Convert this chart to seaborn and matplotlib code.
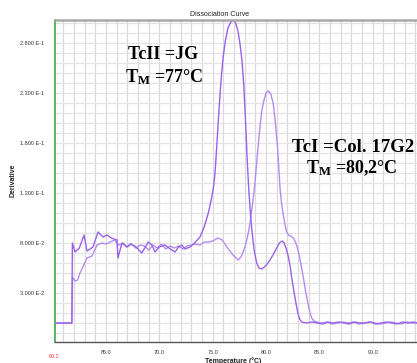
import numpy as np
import pandas as pd
import seaborn as sns
import matplotlib.pyplot as plt
from matplotlib.ticker import FixedLocator, MultipleLocator

# TcII = JG (peak ~77 C)
tempJG = [60.22, 61.0, 61.8, 61.85, 62.1, 62.5, 62.94, 63.22, 63.5, 63.78, 64.25, 64.72,
          65.09, 65.5, 66.03, 66.12, 66.5, 66.94, 67.3, 67.7, 68.0, 68.35, 68.97, 69.3,
          69.6, 70.0, 70.5, 70.9, 71.47, 71.8, 72.1, 72.4, 72.87, 73.3, 73.81, 74.2,
          74.59, 74.9, 75.1, 75.22, 75.4, 75.59, 75.8, 75.97, 76.2, 76.43, 76.7, 76.93,
          77.15, 77.37, 77.55, 77.75, 77.9, 78.03, 78.15, 78.25, 78.4, 78.55, 78.7, 78.9,
          79.12, 79.35, 79.59, 79.85, 80.1, 80.37, 80.7, 81.0, 81.25, 81.5, 81.7, 81.9,
          82.1, 82.24, 82.4, 82.55, 82.7, 82.87, 83.0, 83.15, 83.34, 83.8, 84.3, 84.8,
          85.3, 85.8, 86.3, 86.8, 87.3, 87.8, 88.3, 88.8, 89.3, 89.8, 90.3, 90.8, 91.3,
          91.8, 92.3, 92.8, 93.3, 93.8, 94.2]
derivJG = [0.0, 0.0, 0.0, 0.080, 0.071, 0.075, 0.088, 0.072, 0.074, 0.076, 0.091, 0.086,
           0.088, 0.085, 0.083, 0.065, 0.080, 0.076, 0.079, 0.077, 0.074, 0.070, 0.081, 0.078,
           0.071, 0.076, 0.078, 0.075, 0.071, 0.076, 0.078, 0.074, 0.076, 0.080, 0.086, 0.096,
           0.110, 0.125, 0.138, 0.150, 0.180, 0.213, 0.245, 0.265, 0.283, 0.295, 0.301, 0.303,
           0.300, 0.292, 0.280, 0.262, 0.240, 0.213, 0.185, 0.160, 0.130, 0.108, 0.090, 0.072,
           0.060, 0.055, 0.054, 0.056, 0.059, 0.063, 0.069, 0.075, 0.080, 0.082, 0.080, 0.074,
           0.066, 0.058, 0.046, 0.036, 0.026, 0.016, 0.009, 0.004, 0.001, 0.0, 0.001, 0.0,
           -0.001, 0.001, 0.0, 0.001, 0.0, -0.001, 0.001, 0.0, 0.0, 0.001, -0.001, 0.0, 0.001,
           0.0, -0.001, 0.001, 0.0, 0.001, 0.0]

# TcI = Col. 17G2 (peak ~80.2 C)
tempCol = [60.22, 61.0, 61.8, 61.86, 62.1, 62.35, 62.56, 62.84, 63.22, 63.69, 64.16, 64.63,
           65.0, 65.4, 65.8, 66.2, 66.6, 67.0, 67.4, 67.8, 68.2, 68.6, 69.0, 69.4, 69.8,
           70.2, 70.6, 71.0, 71.4, 71.8, 72.2, 72.6, 73.0, 73.4, 73.8, 74.2, 74.56, 75.0,
           75.5, 75.9, 76.34, 76.9, 77.4, 77.7, 78.03, 78.3, 78.5, 78.75, 78.96, 79.2, 79.43,
           79.6, 79.81, 80.0, 80.21, 80.45, 80.68, 80.85, 81.05, 81.2, 81.31, 81.45, 81.62,
           81.8, 81.94, 82.1, 82.3, 82.55, 82.8, 83.02, 83.25, 83.49, 83.7, 83.96, 84.15,
           84.28, 84.5, 84.75, 85.2, 85.7, 86.2, 86.7, 87.2, 87.7, 88.2, 88.7, 89.2, 89.7,
           90.2, 90.7, 91.2, 91.7, 92.2, 92.7, 93.2, 93.7, 94.2]
derivCol = [0.0, 0.0, 0.0, 0.046, 0.042, 0.043, 0.050, 0.056, 0.065, 0.067, 0.078, 0.080,
            0.079, 0.081, 0.083, 0.078, 0.080, 0.076, 0.079, 0.075, 0.078, 0.077, 0.073, 0.078,
            0.075, 0.079, 0.074, 0.077, 0.075, 0.077, 0.074, 0.077, 0.078, 0.079, 0.078, 0.081,
            0.081, 0.082, 0.085, 0.083, 0.076, 0.068, 0.063, 0.067, 0.076, 0.088, 0.100, 0.120,
            0.140, 0.170, 0.196, 0.212, 0.223, 0.230, 0.232, 0.229, 0.219, 0.203, 0.180, 0.155,
            0.135, 0.120, 0.108, 0.097, 0.091, 0.088, 0.087, 0.085, 0.080, 0.072, 0.060, 0.046,
            0.032, 0.018, 0.009, 0.005, 0.002, 0.001, 0.0, 0.001, -0.001, 0.0, 0.001, 0.0,
            0.001, -0.001, 0.0, 0.001, 0.0, -0.001, 0.0, 0.001, 0.0, -0.001, 0.001, 0.0, 0.0]

yTicks = [0.03, 0.08, 0.13, 0.18, 0.23, 0.28]
yTickLabels = ['3.000 E-2', '8.000 E-2', '1.300 E-1', '1.800 E-1', '2.300 E-1', '2.800 E-1']
xTicks = [65, 70, 75, 80, 85, 90]
xTickLabels = ['65.0', '70.0', '75.0', '80.0', '85.0', '90.0']

sns.set_style('white')
plt.rcParams['font.family'] = ['Liberation Sans', 'DejaVu Sans']
plt.rcParams['mathtext.fontset'] = 'custom'
plt.rcParams['mathtext.bf'] = 'Liberation Serif:bold'
plt.rcParams['mathtext.rm'] = 'Liberation Serif:bold'

fig = plt.figure(figsize=(4.17, 3.63), dpi=100)
ax = fig.add_axes([55 / 417, 1 - 342 / 363, 1 - 55 / 417, 322 / 363])

dfJG = pd.DataFrame({'Temp': tempJG, 'Deriv': derivJG})
dfCol = pd.DataFrame({'Temp': tempCol, 'Deriv': derivCol})
sns.lineplot(data=dfCol, x='Temp', y='Deriv', ax=ax, color='#b48cf0', lw=1.0,
             estimator=None, sort=False)
sns.lineplot(data=dfJG, x='Temp', y='Deriv', ax=ax, color='#9a62ea', lw=1.0,
             estimator=None, sort=False)

ax.set_xlim(60.22, 94.15)
ax.set_ylim(-0.019, 0.303)

ax.xaxis.set_major_locator(FixedLocator(xTicks))
ax.set_xticklabels(xTickLabels)
ax.xaxis.set_minor_locator(MultipleLocator(1))
ax.yaxis.set_major_locator(FixedLocator(yTicks))
ax.set_yticklabels(yTickLabels)
ax.yaxis.set_minor_locator(MultipleLocator(0.01))

ax.grid(True, which='both', axis='x', color='#d9d9d9', lw=0.9)
ax.grid(True, which='both', axis='y', color='#e4e4e4', lw=0.9)
ax.set_axisbelow(True)

ax.tick_params(axis='both', which='major', labelsize=4, labelcolor='#333333',
               length=3, width=0.6, color='#888888')
ax.tick_params(axis='x', which='major', pad=3)
ax.tick_params(axis='y', which='major', pad=5)
ax.tick_params(axis='both', which='minor', length=2.5, width=0.6, color='#aaaaaa')

ax.spines['right'].set_visible(False)
ax.spines['left'].set_color('#4caf50')
ax.spines['left'].set_linewidth(1.3)
ax.spines['bottom'].set_color('#555555')
ax.spines['bottom'].set_linewidth(1.0)
ax.spines['top'].set_color('#a8a8a8')
ax.spines['top'].set_linewidth(1.8)

ax.set_xlabel('')
ax.set_ylabel('')
fig.text(233 / 417, 1 - 361 / 363, 'Temperature (\u00b0C)', fontsize=5, fontweight='bold',
         ha='center', va='center', color='#222222')
fig.text(13 / 417, 1 - 180 / 363, 'Derivative', fontsize=5, fontweight='bold',
         rotation=90, ha='center', va='center', color='#222222')
fig.text(220 / 417, 1 - 15 / 363, 'Dissociation Curve', fontsize=5,
         ha='center', va='center', color='#222222')
fig.text(54.5 / 417, 1 - 357 / 363, '60.2', fontsize=4, color='#ff3333',
         ha='center', va='center')

serif = dict(family='Liberation Serif', fontweight='bold', ha='center', va='baseline',
             color='black')
fig.text(163 / 417, 1 - 59 / 363, 'TcII =JG', fontsize=13, **serif)
fig.text(164 / 417, 1 - 82 / 363, '$\\mathbf{T_M}$ =77\u00b0C', fontsize=13, **serif)
fig.text(353 / 417, 1 - 152 / 363, 'TcI =Col. 17G2', fontsize=13.5, **serif)
fig.text(352 / 417, 1 - 173 / 363, '$\\mathbf{T_M}$ =80,2\u00b0C', fontsize=13, **serif)

fig.savefig('out.png', dpi=100)
